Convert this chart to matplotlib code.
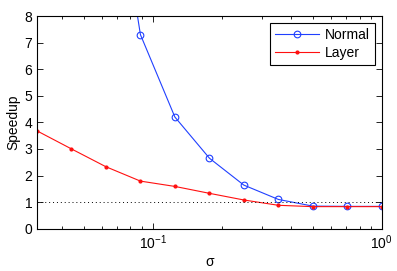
import numpy as np
import matplotlib
matplotlib.use("Agg")
import matplotlib.pyplot as plt
from matplotlib.ticker import LogLocator, NullFormatter

plt.rcParams['font.family'] = ['Liberation Sans', 'DejaVu Sans']
plt.rcParams['font.size'] = 8

# sigma values (powers of sqrt(2))
sigma = [0.03125, 0.0442, 0.0625, 0.0884, 0.125, 0.177, 0.25, 0.354, 0.5, 0.707, 1.0]
normal = [60.0, 32.0, 15.5, 7.3, 4.2, 2.65, 1.64, 1.1, 0.85, 0.84, 0.84]
layer = [3.68, 3.0, 2.33, 1.79, 1.59, 1.33, 1.08, 0.88, 0.83, 0.83, 0.83]


def main():
    fig = plt.figure(figsize=(3.97, 2.71), dpi=100)
    ax = fig.add_axes([37 / 397, 1 - 228.7 / 271, (381.7 - 37) / 397, (228.7 - 16) / 271])

    ax.plot(sigma, normal, '-o', color='#2040ff', lw=0.8, ms=4.8,
            mfc='none', mew=0.8, label='Normal')
    ax.plot(sigma, layer, '-', marker='.', color='#ff1010', lw=0.8, ms=4,
            label='Layer')
    ax.axhline(1.0, color='k', lw=0.7, ls=(0, (1, 3)))

    ax.set_xscale('log')
    ax.set_xlim(0.03125, 1.0)
    ax.set_ylim(0, 8)
    ax.set_yticks(range(9))
    ax.xaxis.set_minor_locator(LogLocator(base=10, subs=np.arange(2, 10)))
    ax.xaxis.set_minor_formatter(NullFormatter())
    ax.tick_params(which='both', direction='in', top=True, right=True,
                   labelsize=10)
    ax.tick_params(which='major', length=4, width=0.6)
    ax.tick_params(which='minor', length=2.5, width=0.6)
    for s in ax.spines.values():
        s.set_linewidth(0.8)

    ax.set_xlabel('σ', fontsize=10, labelpad=2)
    ax.set_ylabel('Speedup', fontsize=10, labelpad=3)

    leg = ax.legend(loc='upper right', fontsize=10, fancybox=False,
                    edgecolor='k', framealpha=1, borderpad=0.35,
                    handlelength=3.2, handletextpad=0.4, labelspacing=0.3,
                    borderaxespad=0.5)
    leg.get_frame().set_linewidth(0.8)

    fig.savefig('out.png', dpi=100)


if __name__ == "__main__":
    main()
